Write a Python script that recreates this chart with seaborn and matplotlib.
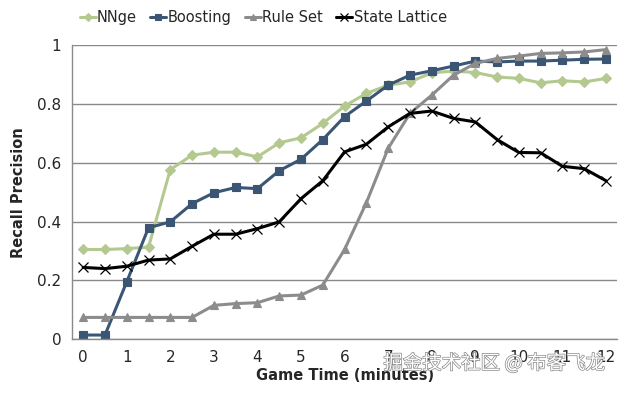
import numpy as np
import pandas as pd
import matplotlib
matplotlib.use("Agg")
import matplotlib.pyplot as plt
import matplotlib.patheffects as pe
import seaborn as sns

# Datos
game_time = [i * 0.5 for i in range(25)]
nnge = [0.305, 0.305, 0.308, 0.313, 0.577, 0.626, 0.636, 0.636, 0.620, 0.668,
        0.685, 0.734, 0.793, 0.836, 0.864, 0.875, 0.906, 0.912, 0.907, 0.892,
        0.887, 0.872, 0.879, 0.875, 0.887]
boosting = [0.014, 0.014, 0.195, 0.379, 0.399, 0.461, 0.498, 0.516, 0.512, 0.573,
            0.612, 0.679, 0.757, 0.810, 0.864, 0.898, 0.913, 0.929, 0.946, 0.943,
            0.946, 0.946, 0.949, 0.952, 0.953]
rule_set = [0.074, 0.074, 0.074, 0.074, 0.074, 0.074, 0.115, 0.121, 0.124, 0.147,
            0.150, 0.184, 0.305, 0.464, 0.649, 0.768, 0.830, 0.898, 0.938, 0.955,
            0.963, 0.972, 0.974, 0.977, 0.985]
state_lattice = [0.244, 0.240, 0.248, 0.269, 0.273, 0.316, 0.357, 0.357, 0.376, 0.399,
                 0.478, 0.539, 0.637, 0.663, 0.722, 0.768, 0.776, 0.751, 0.739, 0.679,
                 0.635, 0.634, 0.588, 0.580, 0.539]
series_names = ["NNge", "Boosting", "Rule Set", "State Lattice"]
x_ticks = list(range(13))
y_ticks = [0, 0.2, 0.4, 0.6, 0.8, 1]

df = pd.DataFrame({"t": game_time, "NNge": nnge, "Boosting": boosting,
                   "Rule Set": rule_set, "State Lattice": state_lattice})

sns.set_theme(style="white")
plt.rcParams["font.family"] = ["DejaVu Sans"]

colors = {"NNge": "#b4c98f", "Boosting": "#3b5675", "Rule Set": "#8c8c8c", "State Lattice": "#000000"}
markers = {"NNge": "D", "Boosting": "s", "Rule Set": "^", "State Lattice": "x"}
msizes = {"NNge": 5, "Boosting": 6, "Rule Set": 6, "State Lattice": 7}

fig, ax = plt.subplots(figsize=(6.34, 3.93), dpi=100)
fig.subplots_adjust(left=0.114, right=0.973, top=0.885, bottom=0.137)

for name in series_names:
    sns.lineplot(data=df, x="t", y=name, ax=ax, color=colors[name], marker=markers[name],
                 markersize=msizes[name], linewidth=2.2, markeredgewidth=0.8 if name != "State Lattice" else 0.9,
                 markeredgecolor=colors[name], label=name)

ax.set_xlim(-0.25, 12.25)
ax.set_ylim(0, 1)
ax.set_xticks(x_ticks)
ax.set_xticklabels([str(v) for v in x_ticks], fontsize=11)
ax.set_yticks(y_ticks)
ax.set_yticklabels(["0", "0.2", "0.4", "0.6", "0.8", "1"], fontsize=11)
ax.tick_params(axis="both", length=0, pad=8)
ax.yaxis.grid(True, color="#8a8a8a", linewidth=1)
ax.set_axisbelow(True)
for s in ["top", "right"]:
    ax.spines[s].set_visible(False)
for s in ["left", "bottom"]:
    ax.spines[s].set_color("#8a8a8a")
    ax.spines[s].set_linewidth(1)

ax.set_xlabel("Game Time (minutes)", fontsize=10.5, fontweight="bold", labelpad=2)
ax.set_ylabel("Recall Precision", fontsize=10.5, fontweight="bold", labelpad=8)

ax.legend(loc="center", bbox_to_anchor=(0.415, 0.955), bbox_transform=fig.transFigure, ncol=4,
          frameon=False, fontsize=10.5, handlelength=1.1, handletextpad=0.1, columnspacing=0.9,
          markerscale=0.8)

fig.text(0.78, 0.075, "掘金技术社区 @ 布客飞龙", fontsize=14, color="white", ha="center", va="center",
         family=["Noto Sans CJK SC", "DejaVu Sans"],
         path_effects=[pe.withStroke(linewidth=1.0, foreground="#888888")])

fig.savefig("out.png", dpi=100)
